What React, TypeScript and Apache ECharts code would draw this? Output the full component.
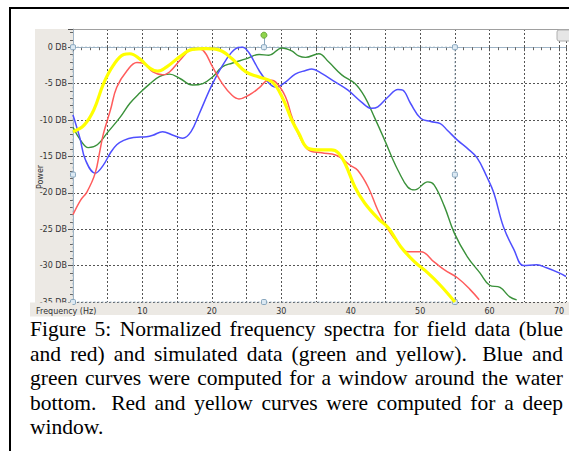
import React, { useEffect, useRef } from 'react';
import * as echarts from 'echarts';

// [frequency Hz, power dB]
const blueData: number[][] = [
  [0, -9.3], [1, -12.5], [1.8, -15.5], [3.2, -17.3], [4.3, -16.3], [5.4, -14.5], [6.3, -13.4],
  [7.3, -12.8], [8.7, -12.4], [10.6, -12.3], [11.5, -12.1], [12.9, -11.6], [14.4, -12.1],
  [15.8, -12.5], [17, -11.6], [18.2, -9.1], [20.1, -5], [22, -1.8], [23.5, -0.15], [24.4, 0],
  [25.3, -0.7], [26.8, -3.2], [27.8, -4.5], [29.2, -5.5], [30.6, -4.8], [32, -3.7], [33.5, -3.2],
  [34.4, -3.0], [35.8, -3.6], [37.8, -4.8], [39.6, -5.9], [41.5, -7.5], [43, -8.4], [43.9, -8.2],
  [45.4, -6.8], [46.8, -5.8], [47.5, -5.9], [48.6, -7.7], [50.1, -9.8], [51.5, -10.2],
  [52.9, -10.5], [53.9, -11.4], [55.4, -12.8], [56.8, -13.9], [58.2, -15.2], [59.6, -17.8],
  [60.6, -20], [62, -24.7], [63.5, -27.8], [64.9, -30], [66.8, -29.9], [68.2, -30.3], [70, -31],
  [71, -31.5],
];
const redData: number[][] = [
  [0, -23], [1.1, -21], [2, -19.9], [3.2, -17.3], [3.9, -14.1], [4.4, -11.8], [5.4, -8.6],
  [6.3, -5.5], [7.8, -3.2], [9.2, -2.1], [10.1, -2.2], [11.5, -3.4], [12.9, -3.8], [13.9, -3.4],
  [15.4, -1.8], [16.8, -0.4], [17.8, -0.2], [18.7, -0.4], [20.1, -2.7], [21.5, -5], [22.9, -6.6],
  [23.9, -7.1], [25.3, -6.6], [26.8, -5.6], [28.2, -4.5], [29.2, -4.8], [30.6, -6.8],
  [31.5, -9.5], [32.5, -12], [33.9, -14.1], [35.8, -14.5], [37.8, -14.8], [38.6, -15.2],
  [39.9, -16.2], [41, -16.9], [42.5, -19.2], [43.9, -22.4], [45.4, -25.1], [46.8, -26.9],
  [48.2, -28.1], [50.1, -28.1], [52, -29.5], [53.5, -30.6], [55.4, -31.7], [57.2, -33.3],
  [58.5, -34.7],
];
const greenData: number[][] = [
  [0, -11], [1.1, -12.8], [2.2, -13.8], [3.5, -13.4], [4.9, -11.8], [6.8, -9.6], [8.2, -7.7],
  [9.6, -6.3], [11.1, -5], [12.5, -4], [13.9, -3.7], [15.4, -4.3], [17.2, -5.2], [18.7, -5],
  [20.1, -4.1], [21.5, -2.7], [22.9, -2.2], [24.9, -1.6], [26.8, -1], [28.2, -1.1], [30.1, -0.1],
  [31.5, -0.5], [32.5, -1.2], [33.5, -1.4], [35.4, -0.9], [36.8, -2], [38.7, -3.8], [40.6, -5],
  [42, -6.8], [43.4, -9.6], [44.9, -12.8], [46.1, -15.5], [46.8, -16.9], [48.2, -19.2],
  [49.2, -19.6], [51.1, -18.5], [52, -18.9], [53.5, -21.9], [54.9, -25.5], [56.8, -28.8],
  [58.6, -31], [60, -32.7], [61.5, -33], [62.9, -34.3], [63.9, -34.7],
];
const yellowData: number[][] = [
  [0, -11.6], [1.6, -10.7], [3, -8.6], [4.4, -5], [5.8, -2.5], [7.3, -1], [8.2, -0.9],
  [9.6, -1.6], [11.1, -2.9], [12.2, -3.3], [13.5, -2.7], [15.4, -1.3], [17.2, -0.3],
  [19.2, -0.2], [21.1, -0.4], [22.9, -1.6], [24.9, -3.4], [26.8, -4.1], [28.7, -4.8],
  [30.1, -6.8], [31.5, -10], [32.5, -11.8], [33.9, -13.9], [35.8, -14.1], [37.2, -14.1],
  [38.2, -14.5], [39.2, -16], [40.6, -19.2], [42, -21.4], [43.9, -23.5], [45.4, -24.8],
  [47.2, -27.4], [49.2, -29.5], [51.1, -31], [52.9, -32.7], [55, -35],
];

const xRange = [0, 71];
const yRange = [-35, 2.5];
const selectionBox = [[0, 0], [55, -35]];
const selectionHandles = [[0, 0], [27.5, 0], [55, 0], [0, -17.5], [55, -17.5], [0, -35], [27.5, -35], [55, -35]];
const rotateHandle = [27.5, 1.65];

const xAxisName = 'Frequency (Hz)';
const yAxisName = 'Power';
const captionLines = [
  'Figure 5: Normalized frequency spectra for field data (blue',
  'and red) and simulated data (green and yellow).  Blue and',
  'green curves were computed for a window around the water',
  'bottom.  Red and yellow curves were computed for a deep',
  'window.',
];

export default function App() {
  const ref = useRef<HTMLDivElement>(null);
  useEffect(() => {
    const chart = echarts.init(ref.current!, null, { renderer: 'svg' });
    const capFont = "21.5px 'Liberation Serif'";
    const ctx = document.createElement('canvas').getContext('2d')!;
    ctx.font = capFont;
    const capLeft = 30;
    const capRight = 563;
    const captionEls: any[] = [];
    captionLines.forEach((line, i) => {
      const y = 329 + i * 24.5;
      const justify = i < captionLines.length - 1;
      if (!justify) {
        captionEls.push({
          type: 'text', x: capLeft, y, z: 60,
          style: { text: line, font: capFont, fill: '#000', textAlign: 'left', textVerticalAlign: 'middle' },
        });
        return;
      }
      const parts = line.split(/( +)/);
      const words: string[] = [];
      const gaps: number[] = [];
      parts.forEach((p, k) => {
        if (k % 2 === 0) words.push(p);
        else gaps.push(p.length > 1 ? 1.7 : 1);
      });
      const widths = words.map((w) => ctx.measureText(w).width);
      const total = widths.reduce((a, b) => a + b, 0);
      const gapW = gaps.reduce((a, b) => a + b, 0);
      const unit = (capRight - capLeft - total) / gapW;
      let x = capLeft;
      words.forEach((w, k) => {
        captionEls.push({
          type: 'text', x, y, z: 60,
          style: { text: w, font: capFont, fill: '#000', textAlign: 'left', textVerticalAlign: 'middle' },
        });
        x += widths[k] + (k < gaps.length ? gaps[k] * unit : 0);
      });
    });

    const handleStyle = { color: '#dce9f3', borderColor: '#89a7be', borderWidth: 1 };
    const axisFont = { fontSize: 8, fontFamily: 'DejaVu Sans', color: '#333' };

    chart.setOption({
      animation: false,
      backgroundColor: '#fff',
      grid: { left: 73, top: 29, width: 498, height: 273, show: false },
      xAxis: {
        type: 'value', min: xRange[0], max: xRange[1], interval: 5,
        axisLine: { show: true, lineStyle: { color: '#9fb4c6', width: 1 } },
        axisTick: { show: true, length: 4, lineStyle: { color: '#555' } },
        minorTick: { show: true, splitNumber: 4, length: 3, lineStyle: { color: '#666' } },
        splitLine: { show: true, lineStyle: { color: '#555', type: [2, 2], width: 1 } },
        axisLabel: {
          ...axisFont, margin: 5,
          formatter: (v: number) => (v > 0 && Math.abs(v % 10) < 1e-9 ? String(v) : ''),
        },
      },
      yAxis: {
        type: 'value', min: yRange[0], max: yRange[1], interval: 5,
        axisLine: { show: true, lineStyle: { color: '#9fb4c6', width: 1 } },
        axisTick: { show: true, length: 5, lineStyle: { color: '#555' } },
        minorTick: { show: true, splitNumber: 5, length: 3, lineStyle: { color: '#666' } },
        splitLine: { show: true, lineStyle: { color: '#555', type: [2, 2], width: 1 } },
        axisLabel: {
          ...axisFont, margin: 6,
          formatter: (v: number) => (Math.abs(v % 5) < 1e-9 ? `${v} DB` : ''),
        },
      },
      series: [
        {
          type: 'line', name: 'green', data: greenData, smooth: 0.4, showSymbol: false,
          lineStyle: { color: '#3a913a', width: 1.4 }, z: 3,
          markArea: {
            silent: true,
            itemStyle: { color: 'rgba(0,0,0,0)', borderColor: '#9fb4c6', borderWidth: 1, borderType: [2, 2] },
            data: [[{ coord: selectionBox[0] }, { coord: selectionBox[1] }]],
          },
        },
        {
          type: 'line', name: 'blue', data: blueData, smooth: 0.4, showSymbol: false,
          lineStyle: { color: '#4f4fff', width: 1.5 }, z: 4,
        },
        {
          type: 'line', name: 'red', data: redData, smooth: 0.4, showSymbol: false,
          lineStyle: { color: '#ff5c5c', width: 1.5 }, z: 5,
        },
        {
          type: 'line', name: 'yellow', data: yellowData, smooth: 0.4, showSymbol: false,
          lineStyle: { color: '#ffff00', width: 3.2 }, z: 6,
        },
        {
          type: 'line', name: 'handles', data: [], z: 10,
          markLine: {
            silent: true, symbol: 'none', label: { show: false },
            lineStyle: { color: '#89a7be', type: 'solid', width: 1 },
            data: [[{ coord: [rotateHandle[0], 0] }, { coord: rotateHandle }]],
          },
          markPoint: {
            silent: true, label: { show: false },
            data: [
              ...selectionHandles.map((c) => ({
                coord: c, symbol: 'roundRect', symbolSize: 5, itemStyle: handleStyle,
              })),
              {
                coord: rotateHandle, symbol: 'circle', symbolSize: 6,
                itemStyle: { color: '#8fd44c', borderColor: '#6aa83a', borderWidth: 1 },
              },
            ],
          },
        },
      ],
      graphic: [
        { type: 'rect', z: -20, shape: { x: 35, y: 29, width: 540, height: 286 }, style: { fill: '#ece9e4' } },
        { type: 'rect', z: -19, shape: { x: 73, y: 29, width: 500, height: 273 }, style: { fill: '#fff' } },
        { type: 'line', z: 5, shape: { x1: 73, y1: 29.5, x2: 569, y2: 29.5 }, style: { stroke: '#a0a0a0', lineWidth: 1 } },
        { type: 'rect', z: 50, shape: { x: 30, y: 302.5, width: 42.5, height: 14 }, style: { fill: '#ece9e4' } },
        {
          type: 'text', z: 51, x: 36, y: 311,
          style: { text: xAxisName, font: "8px 'DejaVu Sans'", fill: '#333', textAlign: 'left', textVerticalAlign: 'middle' },
        },
        {
          type: 'text', z: 51, x: 40, y: 177, rotation: Math.PI / 2,
          style: { text: yAxisName, font: "8px 'DejaVu Sans'", fill: '#333', textAlign: 'center', textVerticalAlign: 'middle' },
        },
        { type: 'rect', z: 50, shape: { x: 557, y: 30, width: 14, height: 11, r: 2 }, style: { fill: '#e6e6e6', stroke: '#b0b0b0', lineWidth: 1 } },
        { type: 'line', z: 60, shape: { x1: 10, y1: 7, x2: 10, y2: 451 }, style: { stroke: '#000', lineWidth: 2 } },
        { type: 'line', z: 60, shape: { x1: 9, y1: 8, x2: 569, y2: 8 }, style: { stroke: '#000', lineWidth: 2 } },
        ...captionEls,
      ],
    });
    return () => chart.dispose();
  }, []);
  return <div ref={ref} style={{ position: 'absolute', left: 0, top: 0, width: 569, height: 451 }} />;
}
